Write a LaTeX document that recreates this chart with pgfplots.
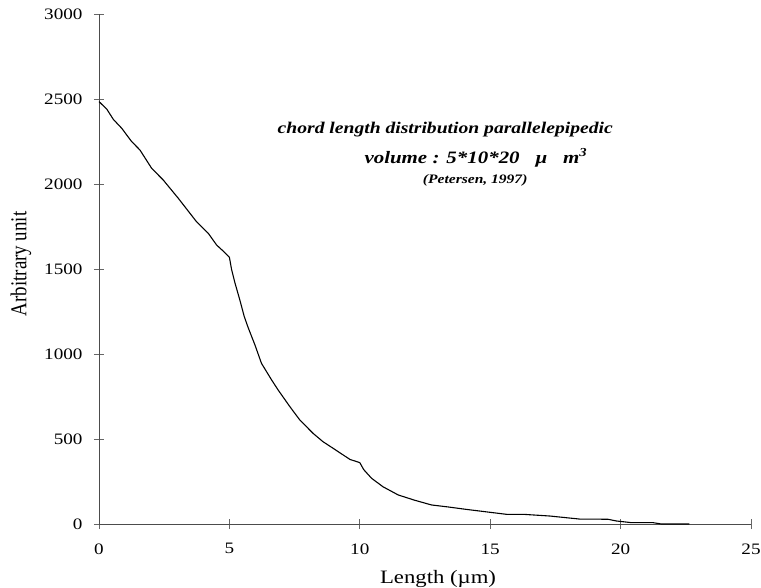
\documentclass[border=0pt]{standalone}
\usepackage{fontspec}
\setmainfont{Liberation Serif}[FakeStretch=1.2]
\newfontfamily\plainserif{Liberation Serif}
\usepackage{graphicx}
\usepackage{pgfplots}
\pgfplotsset{compat=1.18}

\begin{document}
\begin{tikzpicture}
\begin{axis}[
scale only axis,
width=652bp,
height=510bp,
xmin=0, xmax=25,
ymin=0, ymax=3000,
xtick={0,5,...,25},
ytick={0,500,...,3000},
axis x line*=bottom,
axis y line*=left,
axis line style={-, draw=black!70, line width=0.8pt},
tick style={draw=black!60, line width=0.8pt},
tick align=center,
major tick length=10bp,
/pgf/number format/assume math mode=true,
/pgf/number format/1000 sep={},
tick label style={font=\fontsize{16}{18}\selectfont},
xticklabel style={yshift=-11bp},
yticklabel style={xshift=-8bp},
xlabel={Length (µm)},
ylabel={\scalebox{1}[1.2]{Arbitrary unit}},
xlabel style={font=\fontsize{19}{21}\selectfont, at={(rel axis cs:0.52,0)}, anchor=center, yshift=-55bp},
ylabel style={font=\fontsize{19}{21}\selectfont\plainserif, at={(rel axis cs:0,0.51)}, anchor=center, yshift=78bp},
clip=false,
]

% chord length distribution curve
\addplot[black, line width=1.1pt] coordinates {
(0,2485) (0.3,2440) (0.55,2380) (0.87,2328) (1.25,2250) (1.57,2200)
(2.02,2092) (2.46,2024) (3.04,1916) (3.74,1778) (4.19,1710) (4.51,1641)
(4.8,1600) (5.0,1569) (5.08,1500) (5.21,1420) (5.4,1318) (5.57,1220)
(5.72,1155) (5.98,1053) (6.23,945) (6.62,847) (6.87,788) (7.32,690)
(7.70,612) (8.21,533) (8.59,484) (8.98,445) (9.62,380) (10.0,361)
(10.15,320) (10.45,269) (10.89,219) (11.47,171) (12.1,140) (12.75,112)
(13.4,100) (14.08,86) (15.62,57) (16.26,57) (17.28,47) (18.43,29)
(19.51,28) (19.83,18) (20.41,8) (21.24,8) (21.56,0) (22.64,0)
};

\node[font=\fontsize{16.4}{18}\selectfont\bfseries\itshape] at (rel axis cs:0.531,0.773)
  {chord length distribution parallelepipedic};
\node[font=\fontsize{17.5}{19}\selectfont\bfseries\itshape] at (rel axis cs:0.578,0.718)
  {volume : 5*10*20 \ \ µ\ \ \ m\textsuperscript{3}};
\node[font=\fontsize{13}{15}\selectfont\bfseries\itshape] at (rel axis cs:0.577,0.673)
  {(Petersen, 1997)};
\end{axis}
\pgfresetboundingbox
\path[use as bounding box] ([shift={(-99bp,-64bp)}]current axis.south west)
  rectangle ([shift={(10bp,14bp)}]current axis.north east);
\end{tikzpicture}
\end{document}
